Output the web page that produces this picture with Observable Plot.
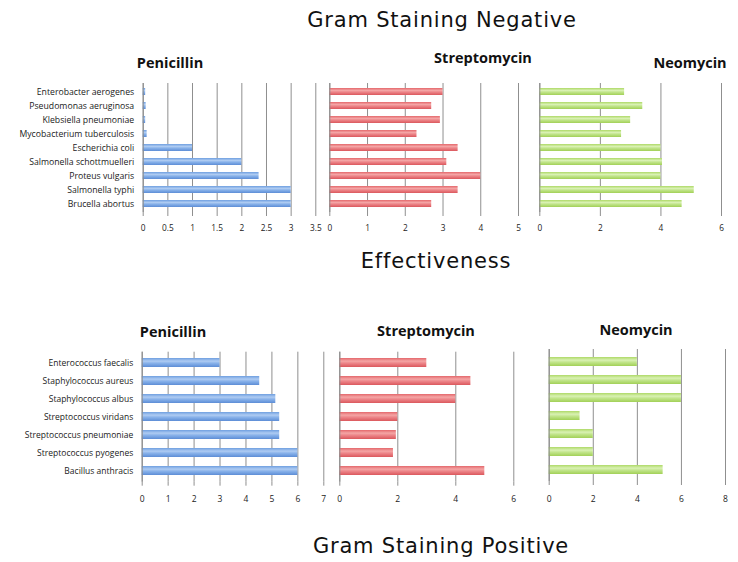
<!DOCTYPE html>
<html>
<head>
<meta charset="utf-8">
<script src="https://cdn.jsdelivr.net/npm/d3@7"></script>
<script src="https://cdn.jsdelivr.net/npm/@observablehq/plot@0.6"></script>
<style>
  html, body { margin: 0; padding: 0; background: #fff; }
  #chart { position: relative; width: 738px; height: 562px; overflow: hidden; background: #fff; }
  .big { position: absolute; font-family: "DejaVu Sans", sans-serif; font-size: 21px; letter-spacing: 0.8px; color: #111; white-space: nowrap; transform: translate(-50%, -50%); }
  .ptitle { position: absolute; font-family: "Open Sans", sans-serif; font-weight: 700; font-size: 14.5px; color: #111; white-space: nowrap; transform: translate(-50%, -50%); }
  #chart svg.panel { position: absolute; overflow: visible; }
</style>
</head>
<body>
<div id="chart"></div>
<script>
// ---- Data ----
const negBacteria = ["Enterobacter aerogenes", "Pseudomonas aeruginosa", "Klebsiella pneumoniae", "Mycobacterium tuberculosis", "Escherichia coli", "Salmonella schottmuelleri", "Proteus vulgaris", "Salmonella typhi", "Brucella abortus"];
const negPenicillin = [0.05, 0.06, 0.05, 0.08, 1.0, 2.0, 2.35, 3.0, 3.0];
const negStreptomycin = [3.0, 2.7, 2.93, 2.31, 3.4, 3.1, 4.0, 3.4, 2.7];
const negNeomycin = [2.8, 3.4, 3.0, 2.7, 4.0, 4.05, 4.0, 5.1, 4.7];

const posBacteria = ["Enterococcus faecalis", "Staphylococcus aureus", "Staphylococcus albus", "Streptococcus viridans", "Streptococcus pneumoniae", "Streptococcus pyogenes", "Bacillus anthracis"];
const posPenicillin = [3.0, 4.53, 5.15, 5.3, 5.3, 6.0, 6.0];
const posStreptomycin = [3.0, 4.52, 4.0, 2.0, 1.95, 1.85, 5.0];
const posNeomycin = [4.0, 6.0, 6.0, 1.4, 2.0, 2.0, 5.17];

const ticksNegPen = [0, 0.5, 1, 1.5, 2, 2.5, 3, 3.5];
const ticksNegStrep = [0, 1, 2, 3, 4, 5];
const ticksNegNeo = [0, 2, 4, 6];
const ticksPosPen = [0, 1, 2, 3, 4, 5, 6, 7];
const ticksPosStrep = [0, 2, 4, 6];
const ticksPosNeo = [0, 2, 4, 6, 8];

const antibiotics = ["Penicillin", "Streptomycin", "Neomycin"];
const headings = ["Gram Staining Negative", "Effectiveness", "Gram Staining Positive"];

// ---- Helpers ----
const chart = document.getElementById("chart");
const NS = "http://www.w3.org/2000/svg";

// gradient defs
const defsSvg = document.createElementNS(NS, "svg");
defsSvg.setAttribute("width", 0); defsSvg.setAttribute("height", 0);
defsSvg.style.position = "absolute";
const defs = document.createElementNS(NS, "defs");
const grads = {
  blue: ["#6f9fe0", "#aecbf2", "#86b0e9", "#5d8dd6"],
  red: ["#e4686c", "#f4a5a5", "#ec8387", "#db585d"],
  green: ["#aed967", "#d9f1b3", "#c0e489", "#a2d057"]
};
for (const [k, c] of Object.entries(grads)) {
  const g = document.createElementNS(NS, "linearGradient");
  g.setAttribute("id", "g-" + k);
  g.setAttribute("x1", 0); g.setAttribute("y1", 0); g.setAttribute("x2", 0); g.setAttribute("y2", 1);
  [0, 0.35, 0.6, 1].forEach((o, i) => {
    const s = document.createElementNS(NS, "stop");
    s.setAttribute("offset", o); s.setAttribute("stop-color", c[i]);
    g.appendChild(s);
  });
  defs.appendChild(g);
}
defsSvg.appendChild(defs);
chart.appendChild(defsSvg);

function addText(cls, text, x, y) {
  const d = document.createElement("div");
  d.className = cls; d.textContent = text;
  d.style.left = x + "px"; d.style.top = y + "px";
  chart.appendChild(d);
}

function panel(o) {
  const data = o.cats.map((c, i) => ({c, v: o.vals[i]}));
  const marks = [
    Plot.gridX(o.ticks, {stroke: "#8f8f8f", strokeOpacity: 1, strokeWidth: 1}),
    Plot.axisX({ticks: o.ticks, tickSize: 4, tickPadding: o.tickPad, stroke: "#8f8f8f", strokeOpacity: 1,
      tickFormat: d => String(d), fontSize: o.tickSize, fill: "#222", label: null}),
    Plot.barX(data, {x: "v", y: "c", fill: "url(#g-" + o.color + ")"}),
    Plot.ruleX([0], {stroke: "#8a8a8a", strokeWidth: 1})
  ];
  if (o.showLabels) marks.push(Plot.axisY({tickSize: 0, tickPadding: o.labPad, fontSize: o.labelSize, fill: "#222", label: null}));
  const svg = Plot.plot({
    width: o.width, height: o.height,
    marginLeft: o.mL, marginRight: o.mR, marginTop: o.mT, marginBottom: o.mB,
    style: {fontFamily: "'Open Sans', sans-serif", background: "transparent", overflow: "visible"},
    x: {domain: [o.ticks[0], o.ticks[o.ticks.length - 1]], label: null},
    y: {domain: o.cats, paddingInner: 0.5, paddingOuter: 0.25, label: null, axis: o.showLabels ? undefined : null},
    marks
  });
  svg.classList.add("panel");
  svg.style.left = o.left + "px";
  svg.style.top = o.top + "px";
  chart.appendChild(svg);
}

// ---- Top row: Gram negative ----
panel({cats: negBacteria, vals: negPenicillin, ticks: ticksNegPen, color: "blue",
  left: 0, top: 70, width: 330, height: 170, mL: 142.7, mR: 14.7, mT: 13, mB: 28,
  showLabels: true, labelSize: 8.7, labPad: 9, tickSize: 8.3, tickPad: 9});
panel({cats: negBacteria, vals: negStreptomycin, ticks: ticksNegStrep, color: "red",
  left: 322, top: 70, width: 205, height: 170, mL: 7.3, mR: 9, mT: 13, mB: 28,
  showLabels: false, tickSize: 8.3, tickPad: 9});
panel({cats: negBacteria, vals: negNeomycin, ticks: ticksNegNeo, color: "green",
  left: 532, top: 70, width: 206, height: 170, mL: 7.3, mR: 17, mT: 13, mB: 28,
  showLabels: false, tickSize: 8.3, tickPad: 9});

// ---- Bottom row: Gram positive ----
panel({cats: posBacteria, vals: posPenicillin, ticks: ticksPosPen, color: "blue",
  left: 0, top: 340, width: 333, height: 170, mL: 141.7, mR: 9.7, mT: 11.7, mB: 28.3,
  showLabels: true, labelSize: 8.5, labPad: 9, tickSize: 8.5, tickPad: 10});
panel({cats: posBacteria, vals: posStreptomycin, ticks: ticksPosStrep, color: "red",
  left: 332, top: 340, width: 190, height: 170, mL: 7.3, mR: 8.7, mT: 11.7, mB: 28.3,
  showLabels: false, tickSize: 8.5, tickPad: 10});
panel({cats: posBacteria, vals: posNeomycin, ticks: ticksPosNeo, color: "green",
  left: 541, top: 340, width: 197, height: 170, mL: 7.7, mR: 13, mT: 9, mB: 29,
  showLabels: false, tickSize: 8.5, tickPad: 10});

// ---- Titles ----
addText("big", headings[0], 442, 20);
addText("big", headings[1], 436, 261);
addText("big", headings[2], 441, 546);
addText("ptitle", antibiotics[0], 170, 62);
addText("ptitle", antibiotics[1], 483, 57);
addText("ptitle", antibiotics[2], 690, 62);
addText("ptitle", antibiotics[0], 173, 331);
addText("ptitle", antibiotics[1], 426, 330);
addText("ptitle", antibiotics[2], 636, 329);
</script>
</body>
</html>
